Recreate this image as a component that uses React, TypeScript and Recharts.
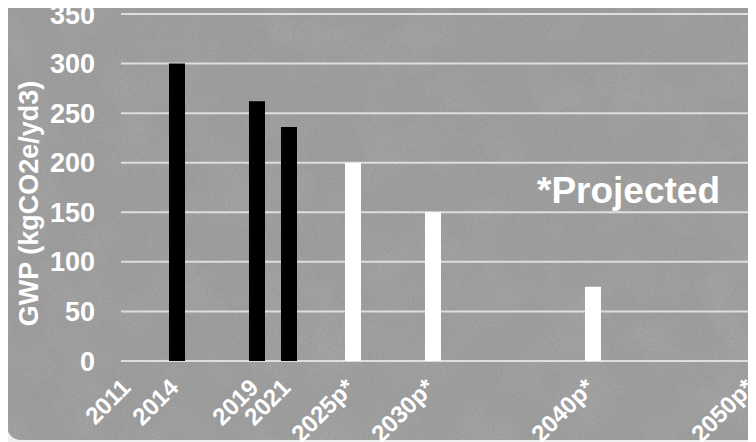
import React from "react";
import { BarChart, Bar, XAxis, YAxis, CartesianGrid, Cell } from "recharts";

const years = [2014, 2019, 2021, 2025, 2030, 2040];
const gwp = [300, 262, 236, 200, 150, 75];
const projected = [false, false, false, true, true, true];
const xTicks = [2011, 2014, 2019, 2021, 2025, 2030, 2040, 2050];
const yTicks = [0, 50, 100, 150, 200, 250, 300, 350];
const yLabel = "GWP (kgCO2e/yd3)";
const noteText = "*Projected";

const data = years.map((y, i) => ({ year: y, gwp: gwp[i], projected: projected[i] }));

const FONT = "'Liberation Sans', Arial, Helvetica, sans-serif";

const fmtYear = (v: number) => (v >= 2025 ? `${v}p*` : `${v}`);

const XTick = (props: any) => {
  const { x, y, payload } = props;
  return (
    <g transform={`translate(${x + 3},${y + 20}) rotate(-45)`}>
      <text textAnchor="end" fill="#ffffff" fontWeight="bold" fontSize={24} fontFamily={FONT}>
        {fmtYear(payload.value)}
      </text>
    </g>
  );
};

const YLabel = (props: any) => {
  const { viewBox } = props;
  const cx = 29;
  const cy = viewBox.y + viewBox.height / 2 + 16;
  return (
    <text
      x={cx}
      y={cy}
      transform={`rotate(-90, ${cx}, ${cy})`}
      textAnchor="middle"
      dominantBaseline="central"
      fill="#ffffff"
      fontWeight="bold"
      fontSize={27}
      fontFamily={FONT}
    >
      {yLabel}
    </text>
  );
};

export default function App() {
  return (
    <div
      style={{
        position: "relative",
        marginLeft: -8,
        marginTop: -8,
        width: 756,
        height: 442,
        overflow: "hidden",
        background: "#eef0ef",
        fontFamily: FONT,
      }}
    >
      <div
        style={{
          position: "absolute",
          left: 7,
          top: -30,
          width: 800,
          height: 470,
          borderRadius: 14,
          background: "#9c9c9c",
          overflow: "hidden",
        }}
      >
        <svg width={800} height={470} style={{ position: "absolute", left: 0, top: 0 }}>
          <defs>
            <filter id="grain" x="0" y="0" width="100%" height="100%">
              <feTurbulence type="fractalNoise" baseFrequency="0.75" numOctaves="2" seed="4" />
              <feColorMatrix
                type="matrix"
                values="0 0 0 0 0.3  0 0 0 0 0.3  0 0 0 0 0.3  0 0 0 4 -2.1"
              />
            </filter>
            <filter id="fine" x="0" y="0" width="100%" height="100%">
              <feTurbulence type="fractalNoise" baseFrequency="1.2" numOctaves="1" seed="11" />
              <feColorMatrix
                type="matrix"
                values="0 0 0 0 0.45  0 0 0 0 0.45  0 0 0 0 0.45  0 0 0 1.5 -0.6"
              />
            </filter>
            <filter id="blotch" x="0" y="0" width="100%" height="100%">
              <feTurbulence type="fractalNoise" baseFrequency="0.02" numOctaves="3" seed="7" />
              <feColorMatrix
                type="matrix"
                values="0 0 0 0 0.5  0 0 0 0 0.5  0 0 0 0 0.5  0 0 0 1.2 -0.45"
              />
            </filter>
          </defs>
          <rect width={800} height={470} filter="url(#blotch)" opacity={0.35} />
          <rect width={800} height={470} filter="url(#fine)" opacity={0.35} />
          <rect width={800} height={470} filter="url(#grain)" opacity={0.8} />
        </svg>
      </div>
      <div style={{ position: "absolute", left: 0, top: 0 }}>
        <BarChart
          width={756}
          height={442}
          data={data}
          margin={{ top: 14, right: 0, bottom: 0, left: 0 }}
        >
          <CartesianGrid vertical={false} stroke="#dedede" strokeWidth={2} />
          <XAxis
            dataKey="year"
            type="number"
            domain={[2010.5, 2050.19]}
            allowDataOverflow
            ticks={xTicks}
            interval={0}
            axisLine={false}
            tickLine={false}
            height={81}
            tick={<XTick />}
          />
          <YAxis
            width={121}
            domain={[0, 350]}
            ticks={yTicks}
            interval={0}
            axisLine={false}
            tickLine={false}
            tickSize={0}
            tickMargin={26}
            tick={{ fill: "#ffffff", fontSize: 27, fontWeight: "bold", fontFamily: FONT }}
            label={<YLabel />}
          />
          <Bar dataKey="gwp" barSize={16} isAnimationActive={false}>
            {data.map((d, i) => (
              <Cell key={i} fill={d.projected ? "#ffffff" : "#000000"} />
            ))}
          </Bar>
        </BarChart>
      </div>
      <div
        style={{
          position: "absolute",
          left: 537,
          top: 169,
          color: "#ffffff",
          fontWeight: "bold",
          fontSize: 37,
          fontFamily: FONT,
          lineHeight: "44px",
          whiteSpace: "nowrap",
        }}
      >
        {noteText}
      </div>
    </div>
  );
}
